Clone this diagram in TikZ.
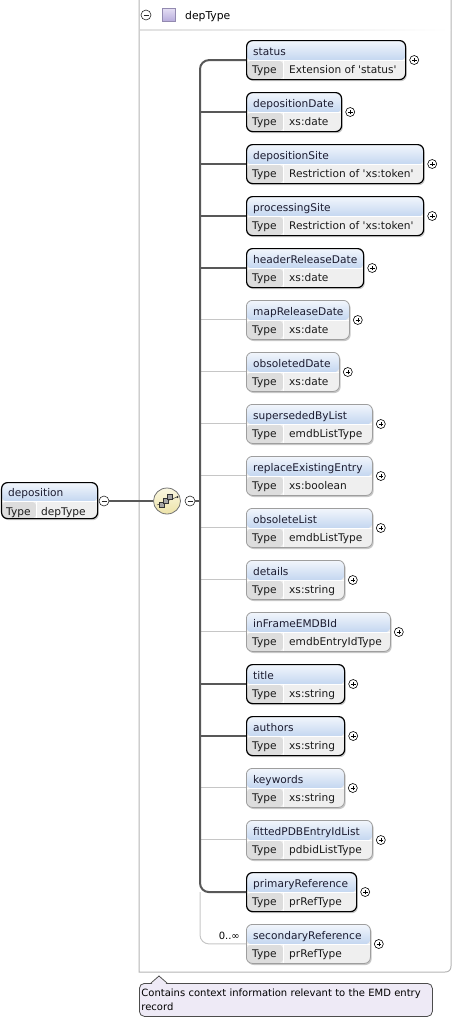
\documentclass[tikz,border=0pt]{standalone}
\usepackage{fontspec}
\setmainfont{DejaVu Sans}
\usetikzlibrary{shadows,calc,shapes.geometric}
\definecolor{ttop}{HTML}{F2F6FC}
\definecolor{tbot}{HTML}{C3D6F0}
\definecolor{typelab}{HTML}{DDDDDD}
\definecolor{typeval}{HTML}{EFEFEF}
\definecolor{darkln}{HTML}{585858}
\definecolor{lightln}{HTML}{C6C6C6}
\definecolor{framec}{HTML}{B4B4B4}
\definecolor{seqtop}{HTML}{FBF8E2}
\definecolor{seqbot}{HTML}{EDE3A8}
\definecolor{annotfill}{HTML}{EEEAF6}
\definecolor{sqtop}{HTML}{E6E0F5}
\definecolor{sqbot}{HTML}{B8ADDC}
\definecolor{ttlc}{HTML}{1C1C30}
\def\tth{20pt}
\def\tlw{37pt}
\def\q{\textquotesingle}
\tikzset{
  ebox/.style={rectangle, rounded corners=6pt, minimum height=39pt, inner sep=0pt, anchor=north west,
    drop shadow={shadow xshift=1.2pt, shadow yshift=-1.6pt, fill=black, opacity=0.22},
    path picture={
      \coordinate (pnw) at (path picture bounding box.north west);
      \coordinate (pse) at (path picture bounding box.south east);
      \coordinate (pne) at (path picture bounding box.north east);
      \coordinate (psw) at (path picture bounding box.south west);
      \fill[typeval] (pnw) rectangle (pse);
      \shade[top color=ttop, bottom color=tbot] (pnw) rectangle ([yshift=-\tth]pne);
      \fill[typelab] ([yshift=-\tth]pnw) rectangle ([xshift=\tlw]psw);
      \draw[white, line width=0.7pt] ([yshift=-\tth]pnw) -- ([yshift=-\tth]pne);
      \draw[white, line width=0.9pt] ([xshift=\tlw,yshift=-\tth]pnw) -- ([xshift=\tlw]psw);
    }},
  mand/.style={ebox, draw=black, line width=1.2pt},
  opt/.style={ebox, draw=black!38, line width=0.8pt},
  ttl/.style={anchor=base west, inner sep=0pt, text=ttlc},
  lbl/.style={anchor=base west, inner sep=0pt, text=black!90},
  plus/.style={circle, draw=black, line width=0.6pt, fill=white, minimum size=9pt, inner sep=0pt,
    path picture={\draw[line width=0.6pt]
      ([xshift=-2.3pt]path picture bounding box.center) -- ([xshift=2.3pt]path picture bounding box.center)
      ([yshift=-2.3pt]path picture bounding box.center) -- ([yshift=2.3pt]path picture bounding box.center);}},
  minus/.style={circle, draw=black!85, line width=0.6pt, fill=white, minimum size=10pt, inner sep=0pt,
    path picture={\draw[line width=0.6pt]
      ([xshift=-2.5pt]path picture bounding box.center) -- ([xshift=2.5pt]path picture bounding box.center);}},
  dk/.style={draw=darkln, line width=2pt},
  lt/.style={draw=lightln, line width=1pt},
}
\newcommand\elem[6]{%
  \node[#6, minimum width=#3pt] (#1) at (246,{40+52*#2}) {};
  \node[ttl] (#1-n) at ([xshift=7pt,yshift=-15pt]#1.north west) {#4};
  \node[lbl] (#1-k) at ([xshift=6pt,yshift=-33pt]#1.north west) {Type};
  \node[lbl] (#1-v) at ([xshift=43pt,yshift=-33pt]#1.north west) {#5};
  \node[plus] (#1-p) at ([xshift=8pt,yshift=-20pt]#1.north east) {};
}
\begin{document}
\begin{tikzpicture}[x=1pt,y=-1pt,font=\fontsize{10.6}{12}\selectfont]
\useasboundingbox (0,0) rectangle (452,1018);
% frame of complex type
\draw[framec, line width=1pt] (139,-2) -- (139,972) -- (445,972) .. controls (449,972) and (451,970) .. (451,966) -- (451,-2);
\shade[left color=black!12, right color=white] (140,29) rectangle (450,30.5);
\node[minus] (hdrm) at (146,15) {};
\node[rectangle, minimum size=13pt, inner sep=0pt, top color=sqtop, bottom color=sqbot, draw=sqbot!80!black, line width=0.4pt] (hdrsq) at (168.5,14.5) {};
\node[anchor=base west, inner sep=0pt, font=\fontsize{10.8}{12}\selectfont] (hdrt) at (185,19) {depType};

% elements
\elem{status}{0}{159}{status}{Extension of \q status\q}{mand}
\elem{depositionDate}{1}{95}{depositionDate}{xs:date}{mand}
\elem{depositionSite}{2}{177}{depositionSite}{Restriction of \q xs:token\q}{mand}
\elem{processingSite}{3}{177}{processingSite}{Restriction of \q xs:token\q}{mand}
\elem{headerReleaseDate}{4}{117}{headerReleaseDate}{xs:date}{mand}
\elem{mapReleaseDate}{5}{103}{mapReleaseDate}{xs:date}{opt}
\elem{obsoletedDate}{6}{93}{obsoletedDate}{xs:date}{opt}
\elem{supersededByList}{7}{126}{supersededByList}{emdbListType}{opt}
\elem{replaceExistingEntry}{8}{126}{replaceExistingEntry}{xs:boolean}{opt}
\elem{obsoleteList}{9}{126}{obsoleteList}{emdbListType}{opt}
\elem{details}{10}{98}{details}{xs:string}{opt}
\elem{inFrameEMDBId}{11}{144}{inFrameEMDBId}{emdbEntryIdType}{opt}
\elem{title}{12}{98}{title}{xs:string}{mand}
\elem{authors}{13}{98}{authors}{xs:string}{mand}
\elem{keywords}{14}{98}{keywords}{xs:string}{opt}
\elem{fittedPDBEntryIdList}{15}{126}{fittedPDBEntryIdList}{pdbidListType}{opt}
\elem{primaryReference}{16}{110}{primaryReference}{prRefType}{mand}
\elem{secondaryReference}{17}{124}{secondaryReference}{prRefType}{opt}

% root element
\begin{scope}
\def\tth{19pt}\def\tlw{35pt}
\node[mand, minimum width=96pt, minimum height=36pt] (deposition) at (1,482) {};
\end{scope}
\node[ttl] (deposition-n) at (8,496) {deposition};
\node[lbl] (deposition-k) at (6,515) {Type};
\node[lbl] (deposition-v) at (41,515) {depType};
\node[minus] (depm) at (104,501) {};

% sequence compositor
\node[ellipse, minimum width=27pt, minimum height=26pt, inner sep=0pt, top color=seqtop, bottom color=seqbot, draw=black!55, line width=0.8pt] (seq) at (167,501) {};
\draw[black!75, line width=0.5pt] (157,505) -- (177,497);
\foreach \i in {0,1,2} \draw[fill=black!35, draw=black!80, line width=0.5pt] ({159.5+4*\i},{507-4*\i}) rectangle ++(5,-5);
\fill[black!80] (177.5,497) circle (1.1);
\node[minus] (seqm) at (190,501) {};

% connectors
\coordinate (spx) at (200,0);
\foreach \n in {mapReleaseDate,obsoletedDate,supersededByList,replaceExistingEntry,obsoleteList,details,inFrameEMDBId,keywords,fittedPDBEntryIdList}
  \draw[lt] (spx |- \n.west) -- (\n.west);
\draw[lt, rounded corners=9pt] (spx |- primaryReference.west) |- (secondaryReference.west);
\draw[dk, rounded corners=9pt] (status.west) -| (spx |- primaryReference.west) -- (primaryReference.west);
\foreach \n in {depositionDate,depositionSite,processingSite,headerReleaseDate,title,authors}
  \draw[dk] (spx |- \n.west) -- (\n.west);
\draw[dk] (seqm.east) -- (spx |- seqm);
\draw[darkln, line width=1.6pt] (depm.east) -- (seq.west);
\node[anchor=base east, inner sep=0pt, font=\fontsize{10}{12}\selectfont] (card) at ([xshift=-6pt,yshift=4.5pt]secondaryReference.west) {0..∞};

% annotation
\node[anchor=north west, draw=black!70, line width=0.8pt, fill=annotfill, rounded corners=5pt, text width=289pt, align=left, inner xsep=2pt, inner ysep=3pt, minimum height=33pt, font=\fontsize{10}{13.5}\selectfont] (ann) at (139,983) {Contains context information relevant to the EMD entry\\record};
\fill[annotfill] ([xshift=12.5pt,yshift=-1pt]ann.north west) -- ([xshift=20pt,yshift=6.5pt]ann.north west) -- ([xshift=27.5pt,yshift=-1pt]ann.north west) -- cycle;
\draw[black!70, line width=0.8pt] ([xshift=12pt]ann.north west) -- ([xshift=20pt,yshift=7pt]ann.north west) -- ([xshift=28pt]ann.north west);
\end{tikzpicture}
\end{document}
